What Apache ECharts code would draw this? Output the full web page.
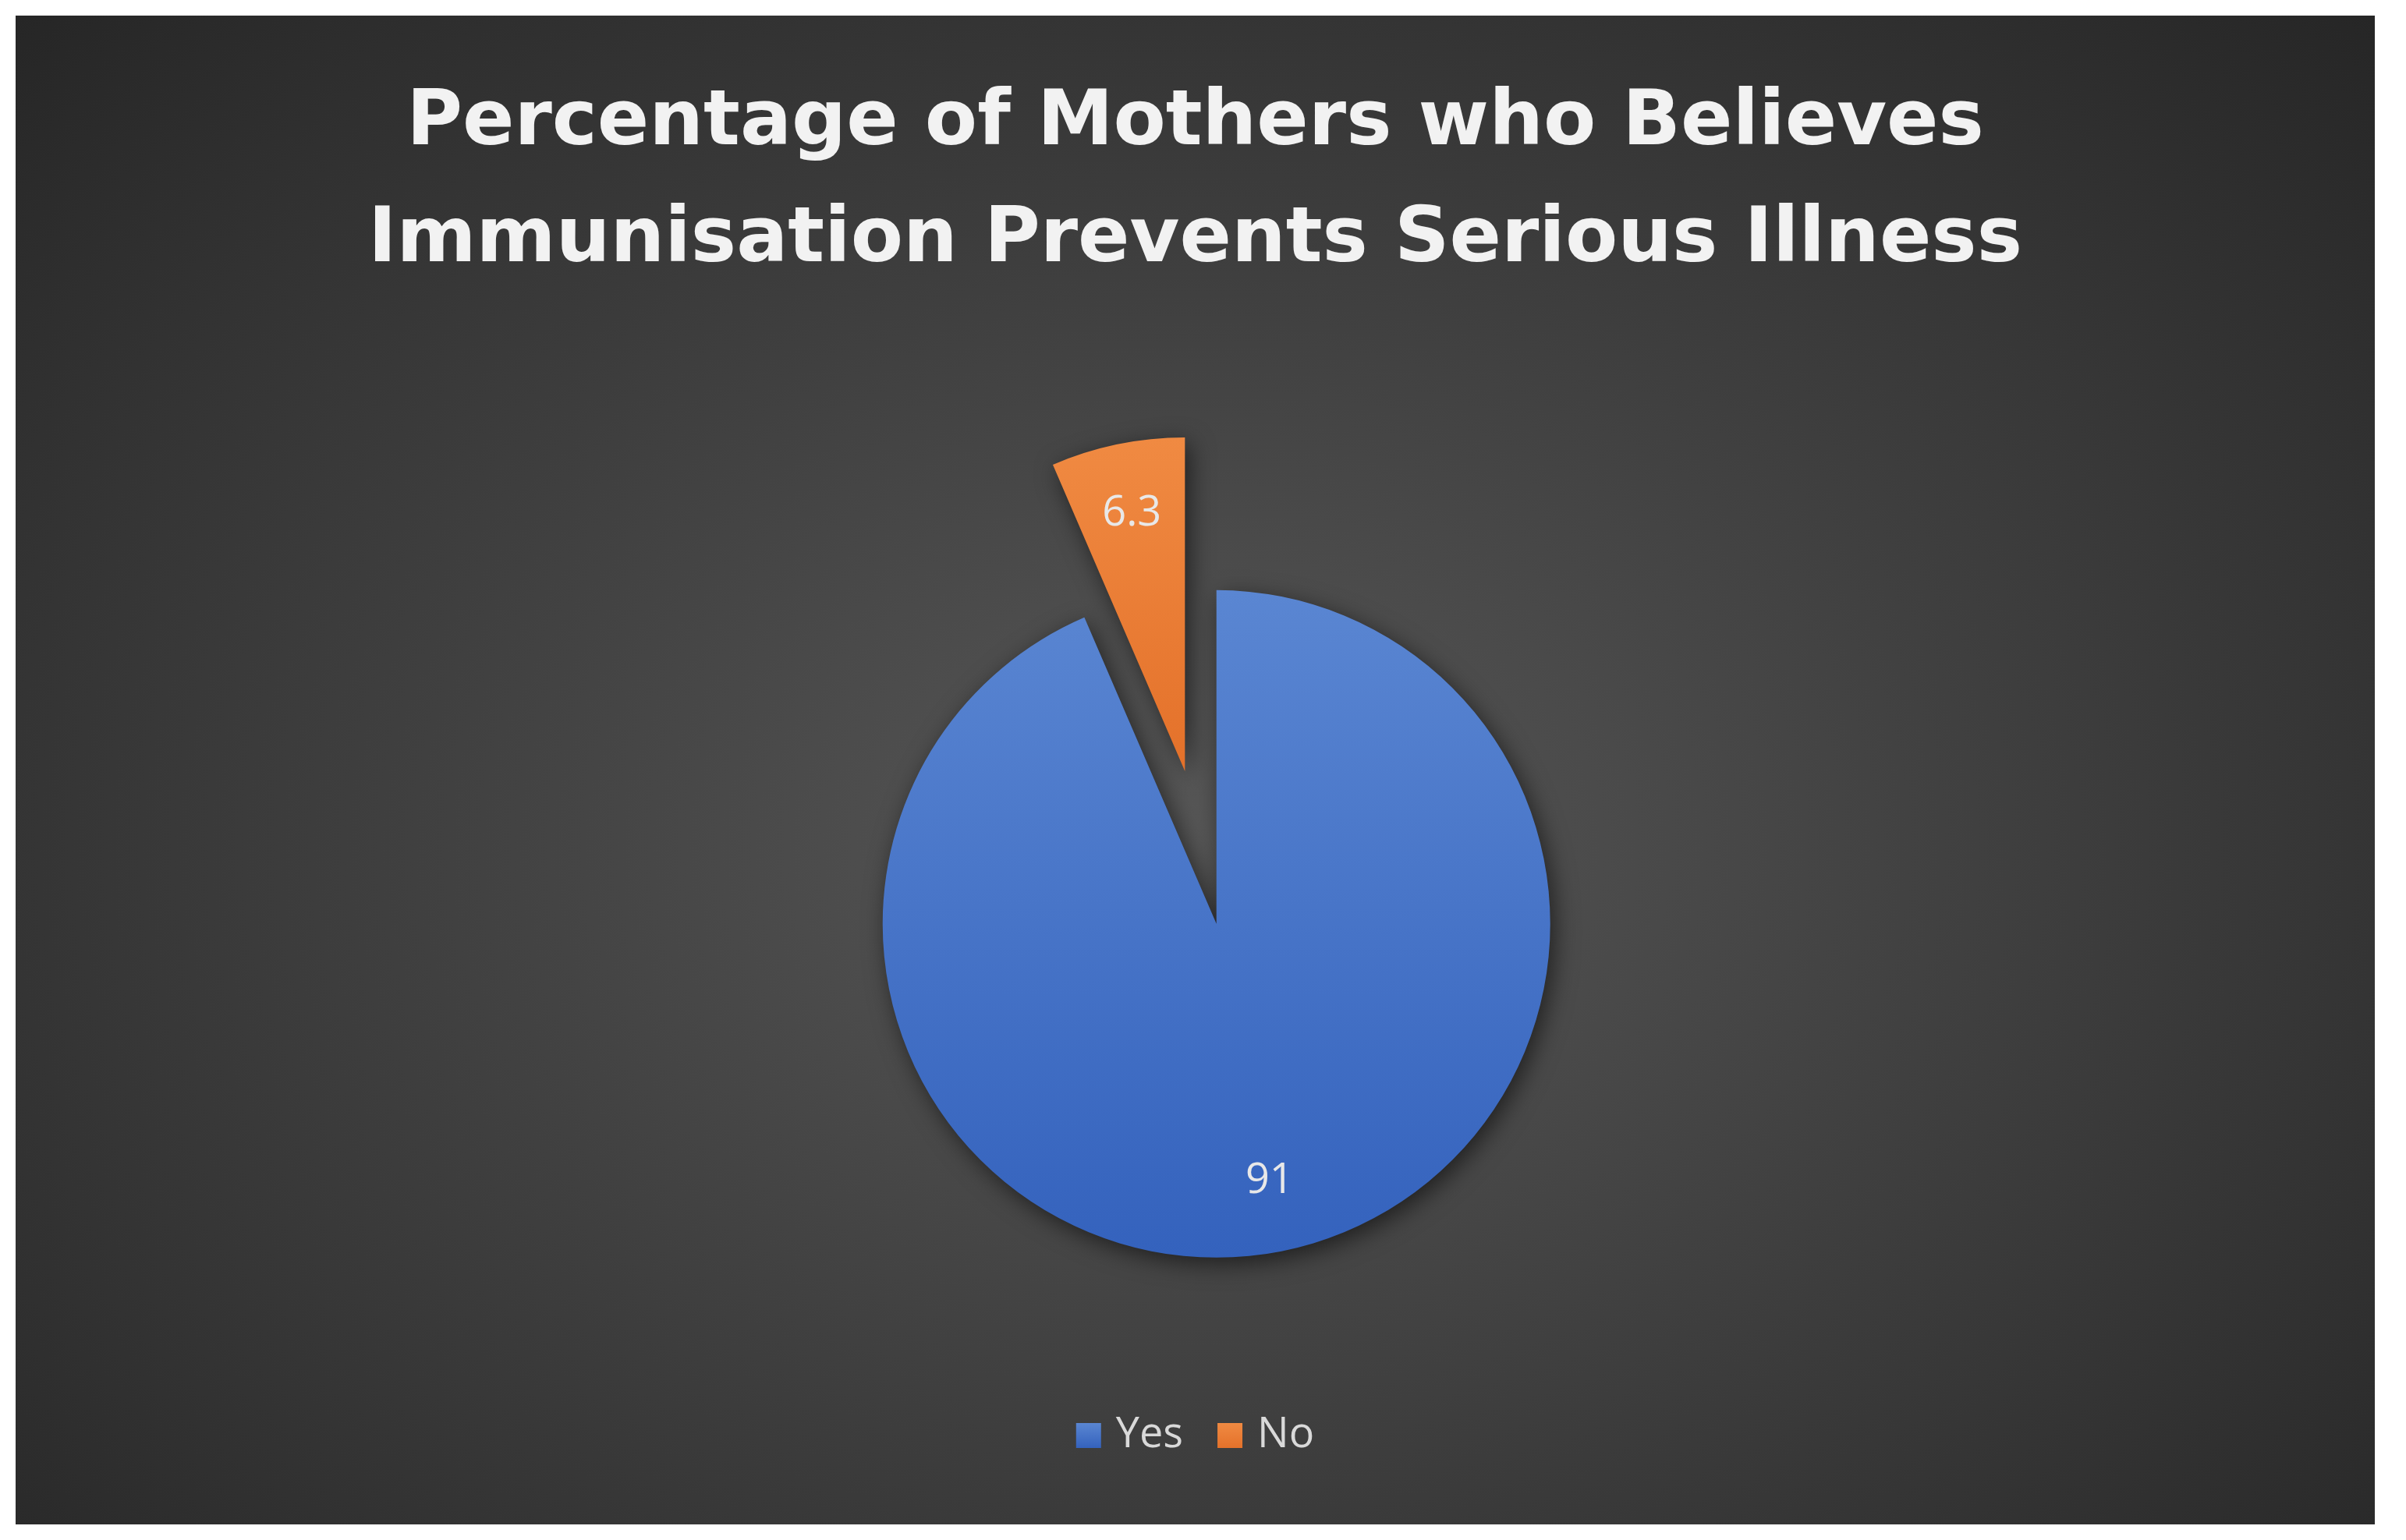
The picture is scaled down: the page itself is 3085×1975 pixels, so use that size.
<!DOCTYPE html>
<html>
<head>
<meta charset="utf-8">
<script src="https://cdn.jsdelivr.net/npm/echarts@6/dist/echarts.min.js"></script>
<style>
  html, body { margin: 0; padding: 0; background: #ffffff; }
  #mainChart {
    position: absolute; left: 20px; top: 20px; width: 3025px; height: 1935px;
    background: radial-gradient(ellipse at 50% 55%, #575757 0%, #3c3c3c 55%, #262626 100%);
  }
</style>
</head>
<body>
<div id="mainChart"></div>
<script>
  const categories = ["Yes", "No"];
  const values = [91, 6.3];
  const colors = ["#4472C4", "#ED7D31"];

  const chart = echarts.init(document.getElementById("mainChart"));

  // slice data, No is pulled out
  function sliceData(withFill) {
    return categories.map((name, i) => ({
      name: name,
      value: values[i],
      selected: name === "No",
      itemStyle: withFill ? {
        color: new echarts.graphic.LinearGradient(0, 0, 0, 1, [
          { offset: 0, color: i === 0 ? "#5a86d2" : "#f08a42" },
          { offset: 1, color: i === 0 ? "#3462bd" : "#e4712a" }
        ])
      } : { color: "rgba(0,0,0,0)" }
    }));
  }

  const option = {
    title: {
      text: "Percentage of Mothers who Believes\nImmunisation Prevents Serious Illness",
      left: "center",
      top: 60,
      textStyle: {
        color: "#f2f2f2",
        fontFamily: "DejaVu Sans",
        fontWeight: "bold",
        fontSize: 98,
        lineHeight: 150
      }
    },
    legend: {
      data: categories,
      bottom: 82,
      left: "center",
      itemWidth: 32,
      itemHeight: 32,
      itemGap: 44,
      icon: "rect",
      formatter: " {name}",
      textStyle: { color: "#d9d9d9", fontSize: 54, fontFamily: "Open Sans" }
    },
    color: colors,
    series: [
      {
        name: "main",
        type: "pie",
        center: ["50.9%", "60.2%"],
        radius: 428,
        selectedMode: "single",
        selectedOffset: 200,
        label: { show: false },
        labelLine: { show: false },
        itemStyle: {
          shadowBlur: 30,
          shadowColor: "rgba(0,0,0,0.55)",
          shadowOffsetX: 6,
          shadowOffsetY: 8
        },
        emphasis: { disabled: true },
        data: sliceData(true)
      },
      {
        name: "labels",
        type: "pie",
        silent: true,
        center: ["50.9%", "60.2%"],
        radius: [240, 428],
        selectedMode: "single",
        selectedOffset: 200,
        legendHoverLink: false,
        label: {
          show: true,
          position: "inside",
          formatter: "{c}",
          color: "#e8e8e8",
          fontSize: 54,
          fontFamily: "Open Sans"
        },
        labelLine: { show: false },
        emphasis: { disabled: true },
        data: sliceData(false)
      }
    ]
  };

  chart.setOption(option);
</script>
</body>
</html>
